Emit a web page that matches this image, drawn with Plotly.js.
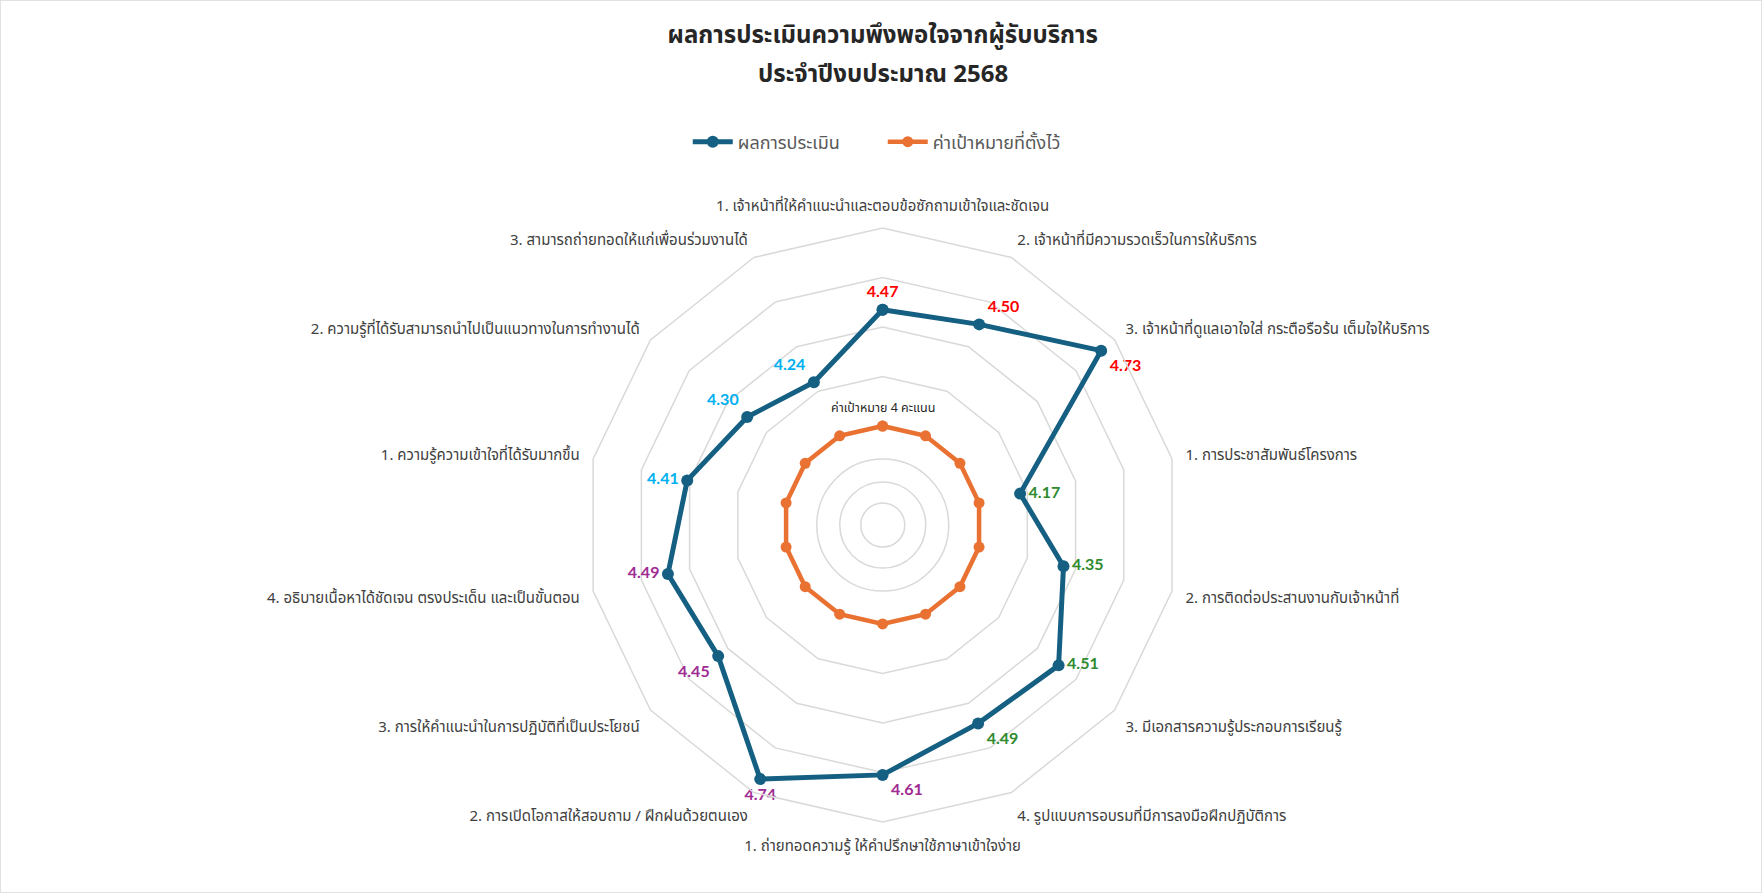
<!DOCTYPE html>
<html>
<head>
<meta charset="utf-8">
<script src="https://cdn.plot.ly/plotly-3.0.1.min.js"></script>
<style>
  html, body { margin: 0; padding: 0; background: #ffffff; }
  #chart { width: 1762px; height: 893px; }
</style>
</head>
<body>
<div id="chart"></div>
<script>
// ---- data ----
const categories = [
  "1. เจ้าหน้าที่ให้คำแนะนำและตอบข้อซักถามเข้าใจและชัดเจน",
  "2. เจ้าหน้าที่มีความรวดเร็วในการให้บริการ",
  "3. เจ้าหน้าที่ดูแลเอาใจใส่ กระตือรือร้น เต็มใจให้บริการ",
  "1. การประชาสัมพันธ์โครงการ",
  "2. การติดต่อประสานงานกับเจ้าหน้าที่",
  "3. มีเอกสารความรู้ประกอบการเรียนรู้",
  "4. รูปแบบการอบรมที่มีการลงมือฝึกปฏิบัติการ",
  "1. ถ่ายทอดความรู้ ให้คำปรึกษาใช้ภาษาเข้าใจง่าย",
  "2. การเปิดโอกาสให้สอบถาม / ฝึกฝนด้วยตนเอง",
  "3. การให้คำแนะนำในการปฏิบัติที่เป็นประโยชน์",
  "4. อธิบายเนื้อหาได้ชัดเจน ตรงประเด็น และเป็นขั้นตอน",
  "1. ความรู้ความเข้าใจที่ได้รับมากขึ้น",
  "2. ความรู้ที่ได้รับสามารถนำไปเป็นแนวทางในการทำงานได้",
  "3. สามารถถ่ายทอดให้แก่เพื่อนร่วมงานได้"
];
const resultValues = [4.47, 4.50, 4.73, 4.17, 4.35, 4.51, 4.49, 4.61, 4.74, 4.45, 4.49, 4.41, 4.30, 4.24];
const targetValues = [4, 4, 4, 4, 4, 4, 4, 4, 4, 4, 4, 4, 4, 4];
const seriesNames = ["ผลการประเมิน", "ค่าเป้าหมายที่ตั้งไว้"];
const titleLines = ["ผลการประเมินความพึงพอใจจากผู้รับบริการ", "ประจำปีงบประมาณ 2568"];
const targetNote = "ค่าเป้าหมาย 4 คะแนน";
const radialRange = [3.6, 4.8];
const gridValues = [4.0, 4.2, 4.4, 4.6];

// ---- styles ----
const labelColors = ["#FF0000","#FF0000","#FF0000",
                     "#2E8B2E","#2E8B2E","#2E8B2E","#2E8B2E",
                     "#A02B93","#A02B93","#A02B93","#A02B93",
                     "#00B0F0","#00B0F0","#00B0F0"];
const labelPositions = ["top center","top right","bottom right","middle right","middle right","middle right",
                        "bottom right","bottom right","bottom center","bottom left","middle left","middle left",
                        "top left","top left"];
const THAI = "'Noto Sans Thai', 'Leelawadee UI', Tahoma, 'Noto Sans', sans-serif";

const close = a => a.concat([a[0]]);

const blue = {
  type: "scatterpolar",
  name: seriesNames[0],
  legendrank: 1,
  r: close(resultValues),
  theta: close(categories),
  mode: "lines+markers+text",
  text: close(resultValues.map(v => v.toFixed(2))).map((t, i) => i === resultValues.length ? "" : t),
  textposition: close(labelPositions),
  textfont: { family: "Lato, 'Open Sans', sans-serif", size: 16, weight: "bold", color: close(labelColors) },
  line: { color: "#156082", width: 5 },
  marker: { color: "#156082", size: 12 },
  hoverinfo: "skip",
  cliponaxis: false
};
const orange = {
  type: "scatterpolar",
  name: seriesNames[1],
  legendrank: 2,
  r: close(targetValues),
  theta: close(categories),
  mode: "lines+markers",
  line: { color: "#E97132", width: 4.5 },
  marker: { color: "#E97132", size: 11 },
  hoverinfo: "skip"
};

const cxPaper = 0.501, cyPaper = 0.412;
const innerCircles = [22, 43, 66].map(rp => ({
  type: "circle", xref: "paper", yref: "paper",
  xsizemode: "pixel", ysizemode: "pixel",
  xanchor: cxPaper, yanchor: cyPaper,
  x0: -rp, x1: rp, y0: -rp, y1: rp,
  line: { color: "#D9D9D9", width: 1.5 }, layer: "below"
}));

const layout = {
  width: 1762, height: 893,
  margin: { l: 0, r: 0, t: 0, b: 0 },
  paper_bgcolor: "#ffffff",
  font: { family: THAI, color: "#404040" },
  title: {
    text: "<b>" + titleLines[0] + "</b>",
    x: 0.501, xanchor: "center", yref: "container", y: 0.961, yanchor: "middle",
    font: { family: THAI, size: 24, color: "#262626" }
  },
  showlegend: true,
  legend: {
    orientation: "h", x: 0.501, xanchor: "center", y: 0.841, yanchor: "middle",
    font: { family: THAI, size: 18, color: "#595959" },
    itemwidth: 40, entrywidth: 140, entrywidthmode: "pixels"
  },
  polar: {
    domain: { x: [0.3324, 0.6694], y: [0.0795, 0.7447] },
    bgcolor: "rgba(0,0,0,0)",
    gridshape: "linear",
    radialaxis: {
      range: radialRange, tickvals: gridValues, showticklabels: false, ticks: "",
      showline: false, gridcolor: "#D9D9D9", gridwidth: 1.5
    },
    angularaxis: {
      type: "category", categoryarray: categories, rotation: 90, direction: "clockwise",
      showgrid: false, ticks: "outside", ticklen: 10, tickcolor: "rgba(0,0,0,0)",
      showline: true, linecolor: "#D9D9D9", linewidth: 1.5,
      tickfont: { family: THAI, size: 15, color: "#404040" }
    }
  },
  shapes: innerCircles.concat([{
    type: "rect", xref: "paper", yref: "paper", x0: 0, x1: 1, y0: 0, y1: 1,
    line: { color: "#D9D9D9", width: 1.5 }
  }]),
  annotations: [
    {
      text: "<b>" + titleLines[1] + "</b>", xref: "paper", yref: "paper", x: 0.501, y: 0.916,
      xanchor: "center", yanchor: "middle", showarrow: false,
      font: { family: THAI, size: 24, color: "#262626" }
    },
    {
      text: targetNote, xref: "paper", yref: "paper", x: 0.501, y: 0.543,
      showarrow: false, font: { family: THAI, size: 12.5, color: "#262626" }
    }
  ]
};

Plotly.newPlot("chart", [orange, blue], layout, { displayModeBar: false, staticPlot: true });
</script>
</body>
</html>
